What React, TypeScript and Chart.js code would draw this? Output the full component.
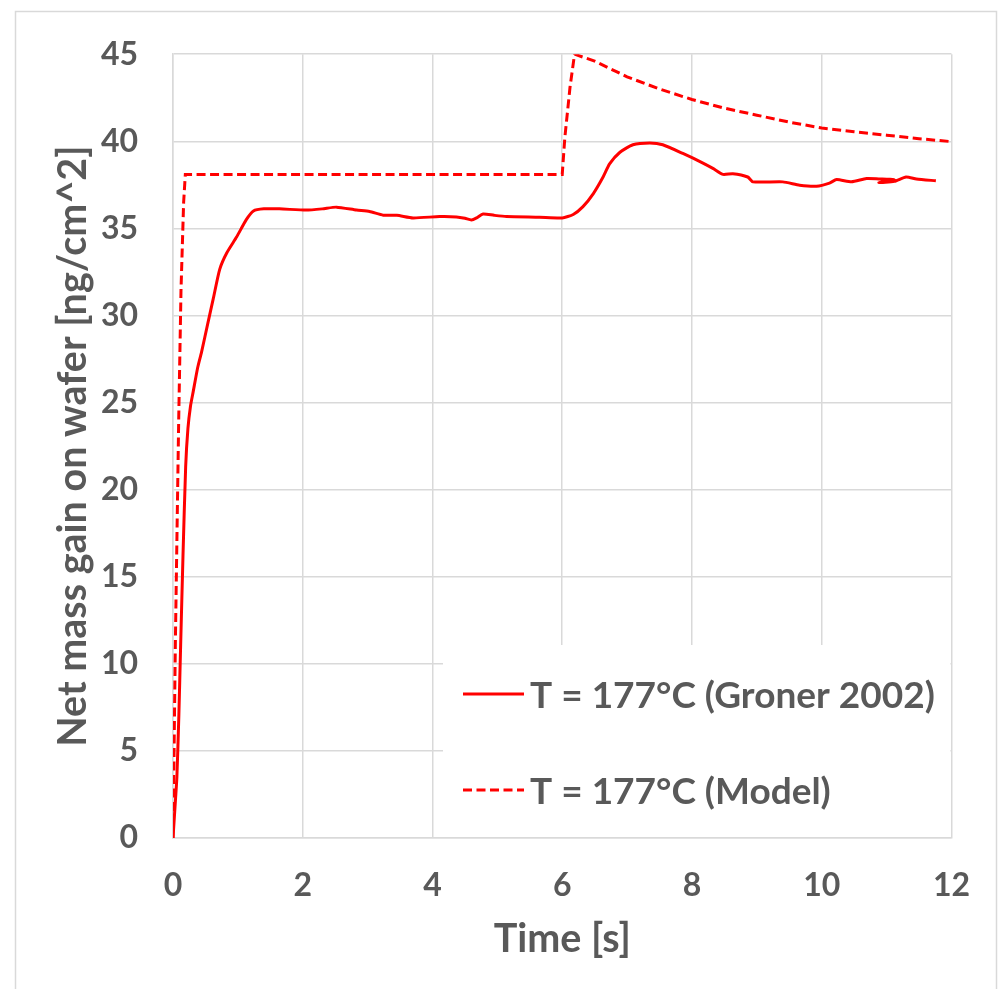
import { useEffect, useRef } from "react";
import { Chart, registerables } from "chart.js";

Chart.register(...registerables);

// ---- data ----
const grTime = [
  0, 0.04, 0.06, 0.09, 0.118, 0.154, 0.195, 0.23, 0.27, 0.31, 0.38, 0.44, 0.54, 0.62, 0.72, 0.83, 0.98, 1.13,
  1.24, 1.4, 1.64, 2.05, 2.3, 2.52, 2.83, 3.03, 3.24, 3.45, 3.7, 4.11, 4.37, 4.5, 4.6, 4.68, 4.78, 4.95, 5.14,
  5.65, 6.0, 6.17, 6.32, 6.48, 6.63, 6.73, 6.89, 7.09, 7.35, 7.55, 7.86, 8.17, 8.33, 8.48, 8.63, 8.86, 8.94,
  9.4, 9.66, 9.92, 10.12, 10.23, 10.46, 10.69, 10.88, 11.12, 10.88, 11.12, 11.3, 11.46, 11.76,
];
const grMass = [
  0, 2.3, 3.5, 7, 11.1, 16.2, 21.3, 23.5, 24.8, 25.6, 27.0, 27.9, 29.6, 30.95, 32.65, 33.6, 34.5, 35.5,
  36.0, 36.12, 36.12, 36.05, 36.12, 36.22, 36.05, 35.97, 35.76, 35.75, 35.6, 35.68, 35.66, 35.58, 35.48, 35.6,
  35.83, 35.75, 35.68, 35.64, 35.6, 35.8, 36.25, 37.0, 37.95, 38.7, 39.37, 39.8, 39.9, 39.8, 39.3, 38.75, 38.43,
  38.1, 38.14, 37.95, 37.67, 37.67, 37.48, 37.42, 37.6, 37.8, 37.67, 37.86, 37.84, 37.8, 37.64, 37.7, 37.95,
  37.84, 37.73,
];

const modelTime = [
  0, 0.036, 0.087, 0.123, 0.164, 0.19, 6.0, 6.04, 6.12, 6.19, 6.5, 7.0, 7.5, 8.0, 8.5, 9.0, 9.5, 10.0, 10.5,
  11.0, 11.5, 12.0,
];
const modelMass = [
  0, 11.1, 23.8, 31.4, 36.5, 38.1, 38.1, 40.2, 43.1, 45.0, 44.6, 43.7, 43.0, 42.4, 41.9, 41.5, 41.1, 40.76,
  40.55, 40.35, 40.15, 39.98,
];

const seriesLabels = ["T = 177°C (Groner 2002)", "T = 177°C (Model)"];
const xTitle = "Time [s]";
const yTitle = "Net mass gain on wafer [ng/cm^2]";
const xRange = [0, 12, 2];
const yRange = [0, 45, 5];

const TEXT = "#595959";
const GRID = "#d9d9d9";
const RED = "#ff0000";
const FONT = "Lato";

const framePlugin = {
  id: "frame",
  beforeDraw(chart: any) {
    const { ctx, width, height } = chart;
    ctx.save();
    ctx.fillStyle = "#ffffff";
    ctx.fillRect(0, 0, width, height);
    ctx.strokeStyle = GRID;
    ctx.lineWidth = 1.5;
    ctx.strokeRect(15.5, 11.5, width - 17, height + 20);
    ctx.restore();
  },
};

const legendPlugin = {
  id: "boxLegend",
  afterDatasetsDraw(chart: any) {
    const { ctx, chartArea } = chart;
    const left = chartArea.left + 270;
    const top = chartArea.bottom - 193;
    ctx.save();
    ctx.fillStyle = "#ffffff";
    ctx.fillRect(left, top, chartArea.right - 1 - left, chartArea.bottom - 1 - top);
    const rows = [
      { base: top + 63, dash: [] as number[] },
      { base: top + 159, dash: [9, 4.5] },
    ];
    chart.data.datasets.forEach((ds: any, i: number) => {
      const r = rows[i];
      const cy = r.base - 14;
      ctx.strokeStyle = ds.borderColor;
      ctx.lineWidth = 3;
      ctx.setLineDash(ds.borderDash || []);
      ctx.beginPath();
      ctx.moveTo(left + 20, cy);
      ctx.lineTo(left + 81, cy);
      ctx.stroke();
      ctx.setLineDash([]);
      ctx.fillStyle = TEXT;
      ctx.font = `bold 37px ${FONT}`;
      ctx.textBaseline = "alphabetic";
      ctx.textAlign = "left";
      ctx.fillText(ds.label, left + 87, r.base);
    });
    ctx.restore();
  },
};

export default function App() {
  const ref = useRef<HTMLCanvasElement | null>(null);

  useEffect(() => {
    if (!ref.current) return;
    const chart = new Chart(ref.current, {
      type: "line",
      data: {
        datasets: [
          {
            label: seriesLabels[0],
            data: grTime.map((t, i) => ({ x: t, y: grMass[i] })),
            borderColor: RED,
            borderWidth: 3,
            pointRadius: 0,
            tension: 0.2,
            fill: false,
          },
          {
            label: seriesLabels[1],
            data: modelTime.map((t, i) => ({ x: t, y: modelMass[i] })),
            borderColor: RED,
            borderWidth: 3,
            borderDash: [9, 4.5],
            pointRadius: 0,
            tension: 0,
            fill: false,
          },
        ],
      },
      options: {
        animation: false,
        responsive: false,
        maintainAspectRatio: false,
        layout: { padding: { top: 45, right: 46, bottom: 0, left: 0 } },
        plugins: {
          legend: { display: false },
          tooltip: { enabled: false },
        },
        scales: {
          x: {
            type: "linear",
            min: xRange[0],
            max: xRange[1],
            ticks: {
              stepSize: xRange[2],
              color: TEXT,
              font: { family: FONT, weight: "bold", size: 32 },
              padding: 28,
              maxRotation: 0,
            },
            grid: { color: GRID, lineWidth: 1.5, drawTicks: false },
            border: { color: GRID, width: 1.5 },
            title: {
              display: true,
              text: xTitle,
              color: TEXT,
              font: { family: FONT, weight: "bold", size: 39.5 },
              padding: { top: 0, bottom: 26 },
            },
            afterFit: (s: any) => {
              s.height = 151;
            },
          },
          y: {
            type: "linear",
            min: yRange[0],
            max: yRange[1],
            ticks: {
              stepSize: yRange[2],
              color: TEXT,
              font: { family: FONT, weight: "bold", size: 32 },
              padding: 35,
            },
            grid: { color: GRID, lineWidth: 1.5, drawTicks: false },
            border: { color: GRID, width: 1.5 },
            title: {
              display: true,
              text: yTitle,
              color: TEXT,
              font: { family: FONT, weight: "bold", size: 39.5 },
              padding: { top: 50, bottom: 0 },
            },
            afterFit: (s: any) => {
              s.width = 173;
            },
          },
        },
      },
      plugins: [framePlugin, legendPlugin],
    });
    return () => chart.destroy();
  }, []);

  return (
    <div style={{ position: "absolute", left: 0, top: 0, width: 998, height: 989 }}>
      <canvas ref={ref} width={998} height={989} style={{ width: 998, height: 989 }} />
    </div>
  );
}
